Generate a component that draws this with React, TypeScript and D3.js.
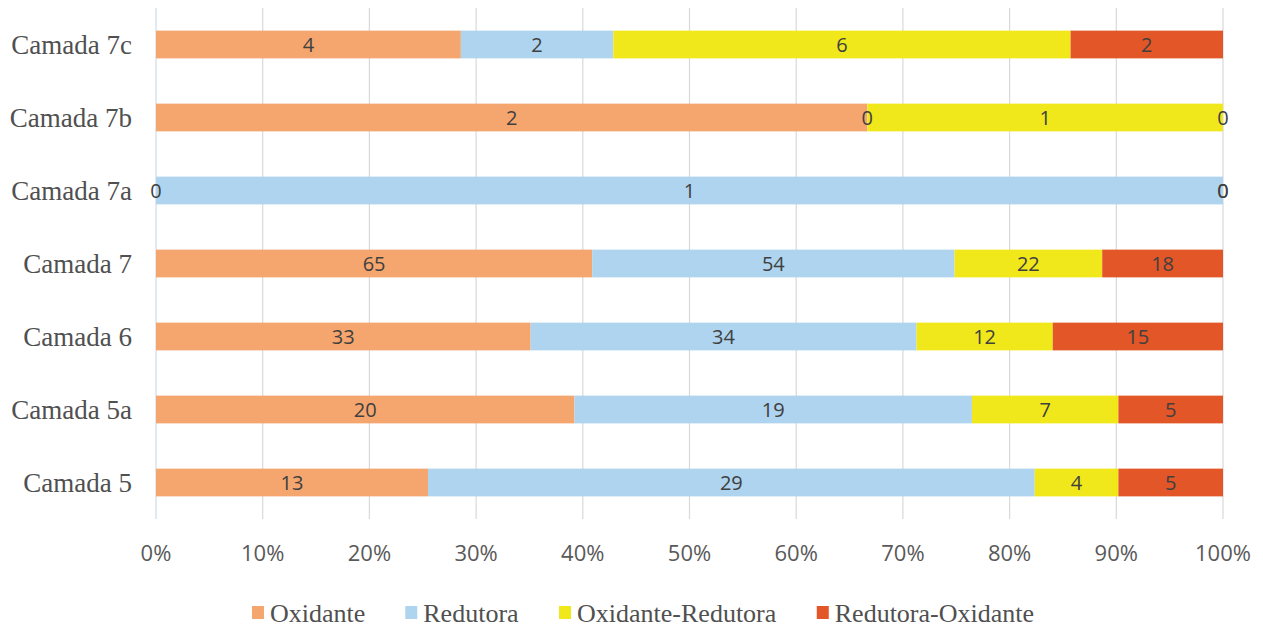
import React, { useRef, useEffect } from 'react';
import * as d3 from 'd3';

const categories = ['Camada 7c', 'Camada 7b', 'Camada 7a', 'Camada 7', 'Camada 6', 'Camada 5a', 'Camada 5'];
const seriesNames = ['Oxidante', 'Redutora', 'Oxidante-Redutora', 'Redutora-Oxidante'];
const oxidante = [4, 2, 0, 65, 33, 20, 13];
const redutora = [2, 0, 1, 54, 34, 19, 29];
const oxidanteRedutora = [6, 1, 0, 22, 12, 7, 4];
const redutoraOxidante = [2, 0, 0, 18, 15, 5, 5];
const xTicks = [0, 0.1, 0.2, 0.3, 0.4, 0.5, 0.6, 0.7, 0.8, 0.9, 1];
const colors = ['#F5A66E', '#AED4EF', '#F1E81B', '#E25627'];

const W = 1263;
const H = 630;

const App: React.FC = () => {
  const svgRef = useRef<SVGSVGElement | null>(null);

  useEffect(() => {
    const svg = d3.select(svgRef.current);
    svg.selectAll('*').remove();

    const rows = categories.map((c, i) => ({
      cat: c,
      vals: [oxidante[i], redutora[i], oxidanteRedutora[i], redutoraOxidante[i]],
    }));

    const x = d3.scaleLinear().domain([0, 1]).range([156, 1223]);
    const y = d3.scaleBand<string>().domain(categories).range([8, 519]).paddingInner(0.62).paddingOuter(0.31);

    // grid
    svg
      .append('g')
      .selectAll('line')
      .data(xTicks)
      .join('line')
      .attr('x1', (d) => x(d))
      .attr('x2', (d) => x(d))
      .attr('y1', 8)
      .attr('y2', 519)
      .attr('stroke', (d) => (d === 0 ? '#cfdbe6' : '#d9d9d9'))
      .attr('stroke-width', 1.2);

    // bars
    const g = svg.append('g');
    rows.forEach((r) => {
      const total = d3.sum(r.vals);
      let acc = 0;
      r.vals.forEach((v, si) => {
        const x0 = acc / total;
        acc += v;
        const x1 = acc / total;
        g.append('rect')
          .attr('x', x(x0))
          .attr('width', x(x1) - x(x0))
          .attr('y', y(r.cat)!)
          .attr('height', y.bandwidth())
          .attr('fill', colors[si]);
      });
    });

    const lg = svg.append('g');
    rows.forEach((r) => {
      const total = d3.sum(r.vals);
      let acc = 0;
      r.vals.forEach((v) => {
        const x0 = acc / total;
        acc += v;
        const x1 = acc / total;
        lg.append('text')
          .attr('x', x((x0 + x1) / 2))
          .attr('y', y(r.cat)! + y.bandwidth() / 2)
          .attr('dy', '0.36em')
          .attr('text-anchor', 'middle')
          .attr('font-family', '"Open Sans", sans-serif')
          .attr('font-size', 20)
          .attr('fill', '#404040')
          .text(v);
      });
    });

    // y labels
    svg
      .append('g')
      .selectAll('text')
      .data(categories)
      .join('text')
      .attr('x', 132)
      .attr('y', (d) => y(d)! + y.bandwidth() / 2)
      .attr('dy', '0.34em')
      .attr('text-anchor', 'end')
      .attr('font-family', '"Liberation Serif", serif')
      .attr('font-size', 27)
      .attr('fill', '#505050')
      .text((d) => d);

    // x labels
    svg
      .append('g')
      .selectAll('text')
      .data(xTicks)
      .join('text')
      .attr('x', (d) => x(d))
      .attr('y', 553)
      .attr('dy', '0.36em')
      .attr('text-anchor', 'middle')
      .attr('font-family', '"Open Sans", sans-serif')
      .attr('font-size', 22)
      .attr('fill', '#595959')
      .text((d) => d3.format('.0%')(d));

    // legend
    const leg = svg.append('g');
    const items = seriesNames.map((name, i) => {
      const it = leg.append('g');
      it.append('rect').attr('x', 0).attr('y', -7).attr('width', 12).attr('height', 13).attr('fill', colors[i]);
      it.append('text')
        .attr('x', 18)
        .attr('dy', '0.34em')
        .attr('font-family', '"Liberation Serif", serif')
        .attr('font-size', 26)
        .attr('fill', '#505050')
        .text(name);
      return it;
    });
    const gap = 40;
    const widths = items.map((it) => (it.node() as SVGGElement).getBBox().width);
    const totalW = d3.sum(widths) + gap * (items.length - 1);
    let cx = 643 - totalW / 2;
    items.forEach((it, i) => {
      it.attr('transform', `translate(${cx},613)`);
      cx += widths[i] + gap;
    });
  }, []);

  return (
    <svg ref={svgRef} width={W} height={H} style={{ position: 'absolute', left: 0, top: 0, background: '#fff' }} />
  );
};

export default App;
